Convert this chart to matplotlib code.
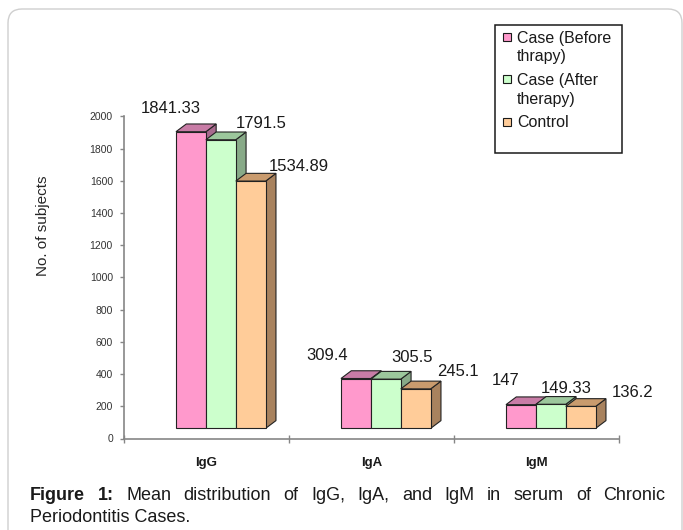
import matplotlib
matplotlib.use("Agg")
import matplotlib.pyplot as plt
from matplotlib.patches import Rectangle, Polygon, FancyBboxPatch
from matplotlib.transforms import IdentityTransform

plt.rcParams['font.family'] = ['Liberation Sans', 'DejaVu Sans']

# immunoglobulin means per group
categories = ['IgG', 'IgA', 'IgM']
series_names = ['Case (Before\nthrapy)', 'Case (After\ntherapy)', 'Control']
before_therapy = [1841.33, 309.4, 147]
after_therapy = [1791.5, 305.5, 149.33]
control = [1534.89, 245.1, 136.2]
series_values = [before_therapy, after_therapy, control]

yticks = list(range(0, 2001, 200))

# front / top / side shades for the pseudo-3D boxes
front_colors = ['#FF99CC', '#CCFFCC', '#FFCC99']
top_colors = ['#C87CA6', '#9CC79C', '#C99B6E']
side_colors = ['#A86A8E', '#88AA88', '#A8825E']

W, H = 683, 530
BAR_W = 0.1812       # bar width in category units
GROUP_START = 0.315  # first bar offset inside a category
DEPTH_X = 0.0624     # box depth, x part (category units)
DEPTH_Y = 48         # box depth, y part (data units)
FLOOR = 63           # front face baseline lift

# label nudges in pixels (dx, dy) per series and category
label_offsets = [
    [(-20, 23), (-29, 23), (-15, 24)],
    [(40, 16), (26, 22), (15, 16)],
    [(48, 15), (42, 17), (52, 14)],
]


def px(x, y):
    return x / W, 1 - y / H


fig = plt.figure(figsize=(W / 100, H / 100), dpi=100)

# rounded outer frame
frame = FancyBboxPatch((8, H - 545), 674, 536,
                       boxstyle="round,pad=0,rounding_size=14",
                       transform=IdentityTransform(), facecolor='none',
                       edgecolor='#cfcfcf', lw=1.0)
fig.add_artist(frame)

ax = fig.add_axes([124 / W, (H - 438.5) / H, 495 / W, 322.2 / H])
ax.set_xlim(0, 3)
ax.set_ylim(0, 2000)

for j in range(len(categories)):
    for i, vals in enumerate(series_values):
        v = vals[j]
        x0 = j + GROUP_START + i * BAR_W
        x1 = x0 + BAR_W
        top = FLOOR + v
        z = 2 + i
        side = Polygon([(x1, FLOOR), (x1 + DEPTH_X, FLOOR + DEPTH_Y),
                        (x1 + DEPTH_X, top + DEPTH_Y), (x1, top)],
                       closed=True, facecolor=side_colors[i],
                       edgecolor='#222222', lw=0.8, zorder=z, clip_on=False)
        lid = Polygon([(x0, top), (x1, top), (x1 + DEPTH_X, top + DEPTH_Y),
                       (x0 + DEPTH_X, top + DEPTH_Y)],
                      closed=True, facecolor=top_colors[i],
                      edgecolor='#222222', lw=0.8, zorder=z, clip_on=False)
        front = Rectangle((x0, FLOOR), BAR_W, v, facecolor=front_colors[i],
                          edgecolor='#222222', lw=0.8, zorder=z, clip_on=False)
        ax.add_patch(side)
        ax.add_patch(lid)
        ax.add_patch(front)
        dx, dy = label_offsets[i][j]
        ax.annotate(f"{v:g}", (x0 + BAR_W / 2, top), xytext=(dx, dy),
                    textcoords='offset pixels', ha='center', va='center',
                    fontsize=12, color='#1a1a1a', zorder=10)

for s in ['top', 'right']:
    ax.spines[s].set_visible(False)
for s in ['left', 'bottom']:
    ax.spines[s].set_color('#868686')
    ax.spines[s].set_linewidth(1.2)

ax.set_yticks(yticks)
ax.set_yticklabels([str(t) for t in yticks], fontsize=7.5, color='#333333')
ax.tick_params(axis='y', direction='out', length=3, width=1, color='#868686', pad=5)
ax.set_xticks([0, 1, 2, 3])
ax.set_xticklabels([])
ax.tick_params(axis='x', which='major', direction='inout', length=6, width=1,
               color='#868686')
ax.set_xticks([0.5, 1.5, 2.5], minor=True)
ax.set_xticklabels(categories, minor=True, fontsize=9.5, fontweight='bold',
                   color='#1a1a1a')
ax.tick_params(axis='x', which='minor', length=0, pad=13)

fig.text(*px(43.5, 226), 'No. of subjects', rotation=90, ha='center',
         va='center', fontsize=11, color='#262626')

# legend box
fig.add_artist(Rectangle(px(495, 152.5), 127 / W, 127.8 / H,
                         transform=fig.transFigure, facecolor='white',
                         edgecolor='#1a1a1a', lw=1.1))
line_y = [[42.9, 61.5], [85.1, 104.4], [127.4]]
for i, name in enumerate(series_names):
    first = line_y[i][0]
    fig.add_artist(Rectangle(px(502.5, first - 1.8), 8 / W, 8 / H,
                             transform=fig.transFigure,
                             facecolor=front_colors[i], edgecolor='#1a1a1a',
                             lw=0.8))
    for k, part in enumerate(name.split('\n')):
        fig.text(*px(517, line_y[i][k]), part, ha='left', va='baseline',
                 fontsize=11.5, color='#1a1a1a')

# justified caption
renderer = fig.canvas.get_renderer()
words = ['Figure', '1:', 'Mean', 'distribution', 'of', 'IgG,', 'IgA,', 'and',
         'IgM', 'in', 'serum', 'of', 'Chronic']
bold = {0, 1}
x_left, x_right, base1 = 30, 665.5, 500
arts = []
for k, w in enumerate(words):
    t = fig.text(0, 0, w, fontsize=13, color='#1a1a1a', va='baseline',
                 fontweight='bold' if k in bold else 'normal')
    arts.append(t)
widths = [t.get_window_extent(renderer).width for t in arts]
gap = (x_right - x_left - sum(widths)) / (len(words) - 1)
x = x_left
for t, wd in zip(arts, widths):
    t.set_position(px(x, base1))
    x += wd + gap
fig.text(*px(x_left, base1 + 22), 'Periodontitis Cases.', fontsize=13,
         color='#1a1a1a', va='baseline')

fig.savefig('out.png', dpi=100)
